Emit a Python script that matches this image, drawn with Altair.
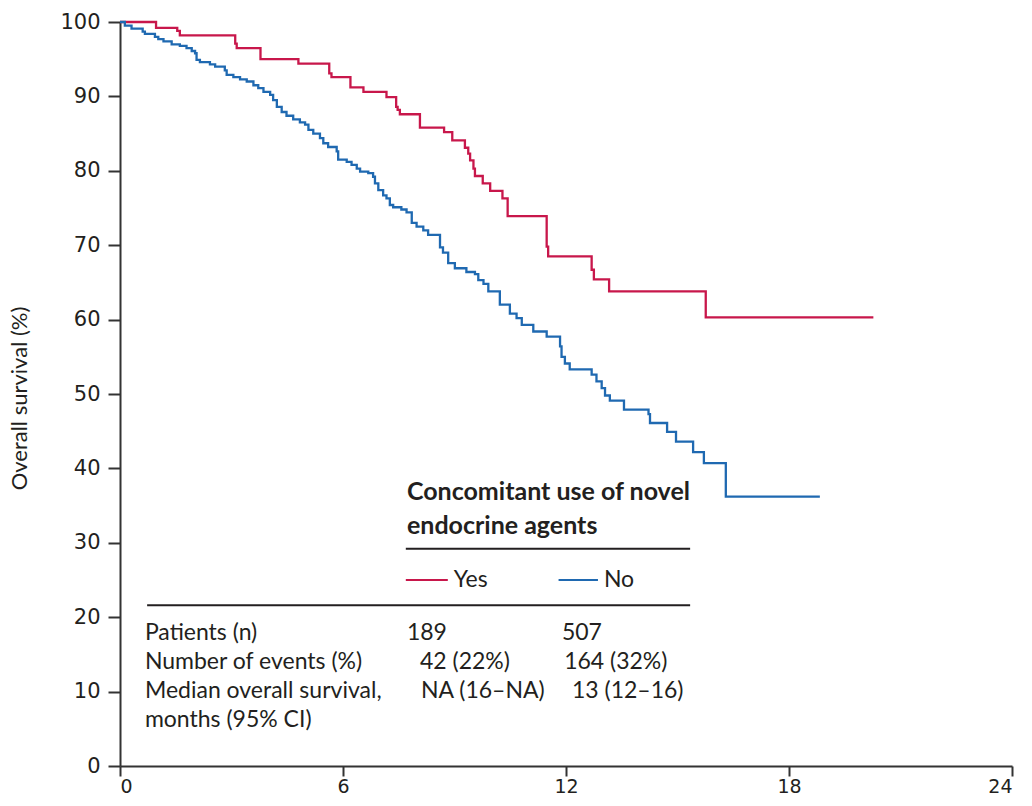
import altair as alt
import pandas as pd

# ---- Kaplan-Meier curves (months, overall survival %) ----
yes_months = [0, 0.97, 1.54, 1.61, 3.10, 3.14, 3.78, 4.80, 5.63, 5.69, 6.20, 6.55, 7.17,
              7.43, 7.47, 7.53, 8.07, 8.72, 8.94, 9.28, 9.37, 9.42, 9.51, 9.55, 9.76, 9.96,
              10.29, 10.43, 11.48, 11.52, 12.69, 12.75, 13.16, 15.76, 20.27]
yes_surv = [100, 99.2, 98.8, 98.2, 97.1, 96.5, 95.0, 94.4, 93.1, 92.6, 91.2, 90.6, 89.9,
            88.6, 88.2, 87.6, 85.8, 85.2, 84.1, 83.1, 82.3, 81.4, 80.3, 79.3, 78.3, 77.3,
            76.3, 73.9, 69.8, 68.5, 66.7, 65.4, 63.8, 60.3, 60.3]

no_months = [0, 0.13, 0.31, 0.61, 0.67, 0.94, 1.03, 1.17, 1.39, 1.61, 1.79, 1.93, 2.02, 2.06,
             2.15, 2.42, 2.56, 2.82, 2.87, 3.05, 3.23, 3.41, 3.59, 3.72, 3.86, 4.04, 4.12,
             4.22, 4.35, 4.48, 4.66, 4.84, 4.98, 5.07, 5.20, 5.38, 5.47, 5.60, 5.83, 5.87,
             6.10, 6.23, 6.37, 6.46, 6.68, 6.81, 6.86, 6.95, 7.08, 7.17, 7.26, 7.35, 7.57,
             7.71, 7.85, 7.98, 8.16, 8.29, 8.61, 8.69, 8.83, 9.01, 9.32, 9.55, 9.64, 9.78,
             9.91, 10.22, 10.49, 10.67, 10.81, 11.12, 11.48, 11.84, 11.88, 11.97, 12.10,
             12.69, 12.82, 12.96, 13.05, 13.18, 13.56, 14.22, 14.26, 14.72, 14.96, 15.42,
             15.71, 16.30, 18.83]
no_surv = [100, 99.5, 99.1, 98.7, 98.4, 98.0, 97.7, 97.4, 97.0, 96.8, 96.5, 96.1, 95.8, 94.9,
           94.6, 94.3, 94.0, 93.5, 92.9, 92.6, 92.3, 92.0, 91.5, 91.1, 90.6, 90.2, 89.5,
           88.6, 87.9, 87.4, 86.9, 86.5, 86.2, 85.5, 85.0, 84.4, 83.7, 83.2, 82.6, 81.5,
           81.2, 80.8, 80.3, 79.9, 79.7, 79.2, 78.3, 77.4, 76.7, 76.3, 75.4, 75.1, 74.8,
           74.4, 73.0, 72.5, 72.0, 71.4, 69.7, 69.0, 67.6, 66.9, 66.4, 66.1, 65.3, 64.8,
           63.8, 62.0, 60.8, 60.2, 59.3, 58.4, 57.7, 56.4, 55.0, 54.1, 53.3,
           52.6, 51.7, 50.8, 49.8, 49.1, 47.9, 47.3, 46.1, 44.9, 43.6, 42.2,
           40.7, 36.2, 36.2]

groups = ["Yes", "No"]
colors = ["#c8174b", "#1f69b1"]
x_ticks = [0, 6, 12, 18, 24]
y_ticks = [0, 10, 20, 30, 40, 50, 60, 70, 80, 90, 100]

# ---- embedded table ----
table_title = ["Concomitant use of novel", "endocrine agents"]
row_labels = ["Patients (n)", "Number of events (%)", "Median overall survival,", "months (95% CI)"]
yes_col = ["189", "42 (22%)", "NA (16\u2013NA)"]
no_col = ["507", "164 (32%)", "13 (12\u201316)"]

TEXT = "#231f20"
FONT = "Lato"
TICK_FONT = "DejaVu Sans"

curves = pd.DataFrame(
    [{"month": m, "surv": s, "group": "Yes"} for m, s in zip(yes_months, yes_surv)]
    + [{"month": m, "surv": s, "group": "No"} for m, s in zip(no_months, no_surv)]
)

xs = alt.Scale(domain=[0, 24], nice=False, zero=False)
ys = alt.Scale(domain=[0, 100], nice=False)
cs = alt.Scale(domain=groups, range=colors)

lines = alt.Chart(curves).mark_line(interpolate="step-after", strokeWidth=2.3).encode(
    x=alt.X("month:Q", scale=xs,
            axis=alt.Axis(values=x_ticks, title=None, format="d",
                          tickSize=10, labelPadding=1, labelFontSize=19,
                          labelBaseline="top")),
    y=alt.Y("surv:Q", scale=ys,
            axis=alt.Axis(values=y_ticks, title="Overall survival (%)", format="d",
                          titleX=-101, titleY=376, titleAngle=-90,
                          titleAlign="center", titleBaseline="middle")),
    color=alt.Color("group:N", scale=cs, legend=None),
    detail="group:N",
)

# annotation positions, in axis units (month, %)
title_df = pd.DataFrame({"x": [7.72, 7.72], "y": [36.8, 32.2], "t": table_title})
title_txt = alt.Chart(title_df).mark_text(
    align="left", baseline="middle", font=FONT, fontSize=25, fontWeight="bold", color=TEXT
).encode(x=alt.X("x:Q", scale=xs), y=alt.Y("y:Q", scale=ys), text="t:N")

rules_df = pd.DataFrame({"x": [7.69, 0.73], "x2": [15.34, 15.34], "y": [29.2, 21.6]})
rules = alt.Chart(rules_df).mark_rule(color=TEXT, strokeWidth=2).encode(
    x=alt.X("x:Q", scale=xs), x2="x2:Q", y=alt.Y("y:Q", scale=ys))

leg_df = pd.DataFrame({"x": [7.69, 11.80], "x2": [8.82, 12.86], "y": [25.0, 25.0], "group": groups})
leg_lines = alt.Chart(leg_df).mark_rule(strokeWidth=2).encode(
    x=alt.X("x:Q", scale=xs), x2="x2:Q", y=alt.Y("y:Q", scale=ys),
    color=alt.Color("group:N", scale=cs, legend=None))

body_rows = [17.9, 14.0, 10.1, 6.2]
body = []
body += [{"x": 0.67, "y": yv, "t": t} for yv, t in zip(body_rows, row_labels)]
body += [{"x": xv, "y": yv, "t": t} for xv, yv, t in zip([7.72, 8.07, 8.10], body_rows, yes_col)]
body += [{"x": xv, "y": yv, "t": t} for xv, yv, t in zip([11.89, 11.95, 12.16], body_rows, no_col)]
body += [{"x": 8.98, "y": 25.0, "t": "Yes"}, {"x": 13.02, "y": 25.0, "t": "No"}]
body_df = pd.DataFrame(body)
body_txt = alt.Chart(body_df).mark_text(
    align="left", baseline="middle", font=FONT, fontSize=23, color=TEXT
).encode(x=alt.X("x:Q", scale=xs), y=alt.Y("y:Q", scale=ys), text="t:N")

chart = alt.layer(lines, rules, leg_lines, title_txt, body_txt).properties(
    width=892, height=744,
    autosize=alt.AutoSizeParams(type="none"),
    padding={"left": 120, "top": 22, "right": 20, "bottom": 40},
).configure_view(stroke=None).configure_axis(
    grid=False,
    domainColor="#333333", domainWidth=2,
    tickColor="#333333", tickWidth=2, tickSize=12,
    labelFont=TICK_FONT, labelFontSize=21, labelColor=TEXT, labelPadding=8,
    titleFont=FONT, titleFontSize=22, titleFontWeight="normal", titleColor=TEXT,
)

chart.save("out.html", embed_options={"renderer": "svg", "actions": False})
